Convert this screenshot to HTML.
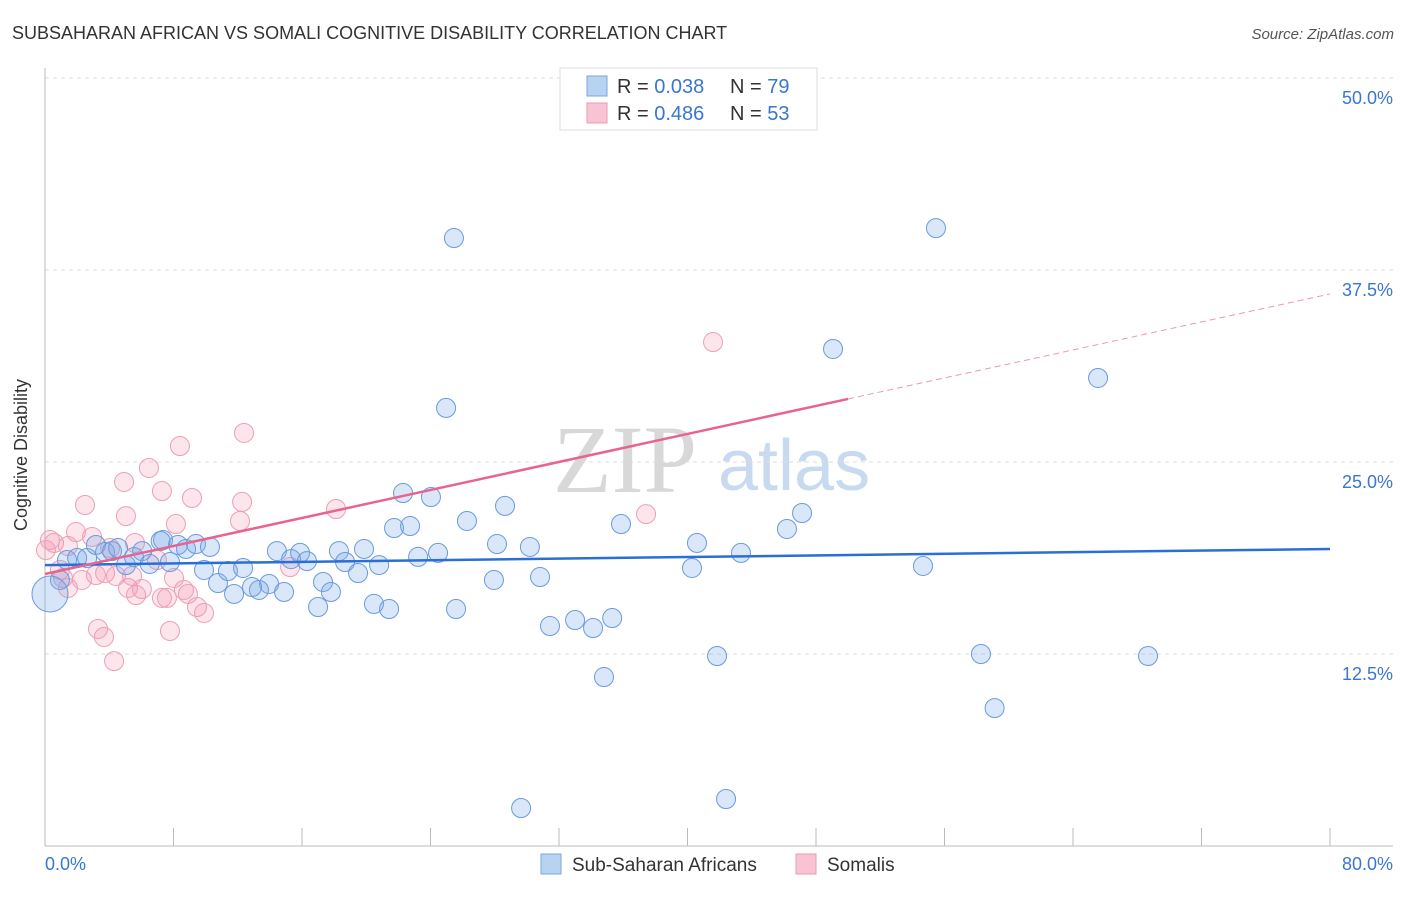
<!DOCTYPE html>
<html><head><meta charset="utf-8"><style>
body{margin:0;background:#fff;font-family:"Liberation Sans",sans-serif}
</style></head><body>
<svg width="1406" height="892" viewBox="0 0 1406 892" xmlns="http://www.w3.org/2000/svg">
<text x="12" y="39" font-size="18" fill="#333">SUBSAHARAN AFRICAN VS SOMALI COGNITIVE DISABILITY CORRELATION CHART</text>
<text x="1394" y="39" font-size="15" fill="#555" font-style="italic" text-anchor="end">Source: ZipAtlas.com</text>
<g>
<text x="553" y="492" font-size="96" font-family="Liberation Serif,serif" fill="#d8d8d8">ZIP</text>
<text x="718" y="490" font-size="72" fill="#c8daf0">atlas</text>
</g>
<g id="grid"></g>
<line x1="45" y1="68" x2="45" y2="846" stroke="#bbb"/>
<line x1="45" y1="846" x2="1393" y2="846" stroke="#bbb"/>
<text x="27" y="455" font-size="18" fill="#333" transform="rotate(-90 27 455)" text-anchor="middle">Cognitive Disability</text>
<text x="45" y="870" font-size="18" fill="#3a76d0">0.0%</text>
<text x="1393" y="870" font-size="18" fill="#3a76d0" text-anchor="end">80.0%</text>
<g id="pts"></g>
<g id="lines"></g>
<g>
<rect x="560" y="68" width="257" height="62" fill="#fff" stroke="#ddd"/>
<rect x="587" y="76" width="20" height="20" fill="#b8d2f2" stroke="#7aa6e0"/>
<rect x="587" y="103" width="20" height="20" fill="#f8c4d4" stroke="#eb98b2"/>
<text x="617" y="93" font-size="20" fill="#333">R = <tspan fill="#3a76d0">0.038</tspan></text>
<text x="730" y="93" font-size="20" fill="#333">N = <tspan fill="#3a76d0">79</tspan></text>
<text x="617" y="120" font-size="20" fill="#333">R = <tspan fill="#3a76d0">0.486</tspan></text>
<text x="730" y="120" font-size="20" fill="#333">N = <tspan fill="#3a76d0">53</tspan></text>
</g>
<g>
<rect x="541" y="854" width="20" height="20" fill="#b8d2f2" stroke="#7aa6e0"/>
<text x="572" y="871" font-size="19" fill="#333">Sub-Saharan Africans</text>
<rect x="796" y="854" width="20" height="20" fill="#f8c4d4" stroke="#eb98b2"/>
<text x="827" y="871" font-size="19" fill="#333">Somalis</text>
</g>
</svg>
<script>
const yTicks=[12.5,25,37.5,50];
const yTickLabels=["12.5%","25.0%","37.5%","50.0%"];
const xTicks=[0,8,16,24,32,40,48,56,64,72,80];
const blueX=[25.46,55.47,49.06,65.56,24.97,22.29,24.03,28.64,26.27,47.13,35.86,46.19,21.73,22.73,40.59,28.14,30.19,43.33,24.47,23.23,19.86,18.30,14.44,15.88,15.32,16.31,18.68,20.80,19.49,54.66,40.28,27.95,30.82,17.31,17.80,13.95,12.89,13.32,14.88,11.77,10.77,11.39,12.33,9.90,17.00,20.48,21.42,25.59,31.44,33.00,34.12,35.31,41.84,58.27,68.67,34.80,59.12,29.64,42.40,0.93,1.37,2.00,2.62,3.17,3.74,4.17,4.55,5.04,5.54,6.05,6.52,7.20,7.35,7.78,8.28,8.78,9.40,10.27];
const blueY=[39.58,40.23,32.36,30.47,28.52,22.98,22.72,22.14,21.16,21.68,20.96,20.64,20.70,20.83,19.73,19.66,19.47,19.08,19.08,18.82,19.34,19.20,19.20,19.08,18.68,18.55,18.49,18.29,17.77,18.23,18.10,17.32,17.51,17.19,16.54,17.06,16.86,16.67,16.54,16.41,17.12,17.90,18.10,17.97,15.56,15.76,15.43,15.43,14.32,14.71,14.19,14.84,12.37,12.50,12.37,11.00,8.98,2.47,3.06,17.32,18.62,18.75,18.75,19.60,19.14,19.20,19.40,18.29,18.81,19.20,18.36,19.86,19.92,18.49,19.60,19.34,19.66,19.47];
const bigBlue=[0.31,16.41];
const pinkX=[41.59,12.39,8.40,6.47,4.92,7.28,9.15,2.49,12.27,18.12,37.42,5.04,12.14,8.15,1.93,2.93,0.56,1.43,4.05,5.60,6.97,15.26,0.06,0.93,3.17,2.30,3.74,4.42,5.42,8.03,1.12,1.43,5.17,6.03,8.65,5.67,7.28,7.59,8.90,9.46,9.90,3.30,3.67,7.78,4.30,0.31];
const pinkY=[32.81,26.89,26.04,24.61,23.70,23.11,22.66,22.20,22.40,21.94,21.61,21.48,21.16,20.96,20.44,20.12,19.73,19.53,19.40,19.73,18.62,18.16,19.27,17.97,17.64,17.32,17.77,17.58,17.58,17.45,17.45,16.80,16.80,16.73,16.67,16.34,16.15,16.15,16.41,15.56,15.17,14.13,13.61,14.00,12.04,19.92];
const blueTrend=[18.29,0.0131];
const pinkTrend=[17.71,0.2279];
const pinkSolidEnd=50;
const NS="http://www.w3.org/2000/svg";
const sx=v=>45+v/80*1285, sy=v=>846-v/50*768;
function mk(t,a,p){const e=document.createElementNS(NS,t);for(const k in a)e.setAttribute(k,a[k]);p.appendChild(e);return e;}
const grid=document.getElementById('grid');
yTicks.forEach((t,i)=>{
 const l=mk('line',{x1:45,x2:1393,y1:sy(t),y2:sy(t),stroke:'#ddd','stroke-dasharray':'4,4'},grid);
 
 
 const tx=mk('text',{x:1393,y:sy(t)+26,'font-size':18,fill:'#3a76d0','text-anchor':'end'},grid);
 tx.textContent=yTickLabels[i];
 
 
});
xTicks.forEach(t=>{
 const l=mk('line',{x1:sx(t),x2:sx(t),y1:828,y2:846,stroke:'#bbb'},grid);
 
 
});
const pts=document.getElementById('pts');
pinkX.forEach((x,i)=>{
 const c=mk('circle',{cx:sx(x),cy:sy(pinkY[i]),r:9.5,fill:'rgba(242,150,176,0.25)',stroke:'#ec9fb7','stroke-width':1},pts);
 
 
});
blueX.forEach((x,i)=>{
 const c=mk('circle',{cx:sx(x),cy:sy(blueY[i]),r:9.5,fill:'rgba(120,168,232,0.27)',stroke:'#6a9ade','stroke-width':1},pts);
 
 
});
const bb=mk('circle',{cx:sx(bigBlue[0]),cy:sy(bigBlue[1]),r:18,fill:'rgba(120,168,232,0.3)',stroke:'#6a9ade','stroke-width':1},pts);


const lines=document.getElementById('lines');
const bl=mk('line',{x1:sx(0),y1:sy(blueTrend[0]),x2:sx(80),y2:sy(blueTrend[0]+blueTrend[1]*80),stroke:'#2a6fd6','stroke-width':2.5},lines);


const pl=mk('line',{x1:sx(0),y1:sy(pinkTrend[0]),x2:sx(pinkSolidEnd),y2:sy(pinkTrend[0]+pinkTrend[1]*pinkSolidEnd),stroke:'#e8648f','stroke-width':2.5},lines);


const pd=mk('line',{x1:sx(pinkSolidEnd),y1:sy(pinkTrend[0]+pinkTrend[1]*pinkSolidEnd),x2:sx(80),y2:sy(pinkTrend[0]+pinkTrend[1]*80),stroke:'#eb98b2','stroke-width':1,'stroke-dasharray':'6,4'},lines);


</script>
</body></html>
